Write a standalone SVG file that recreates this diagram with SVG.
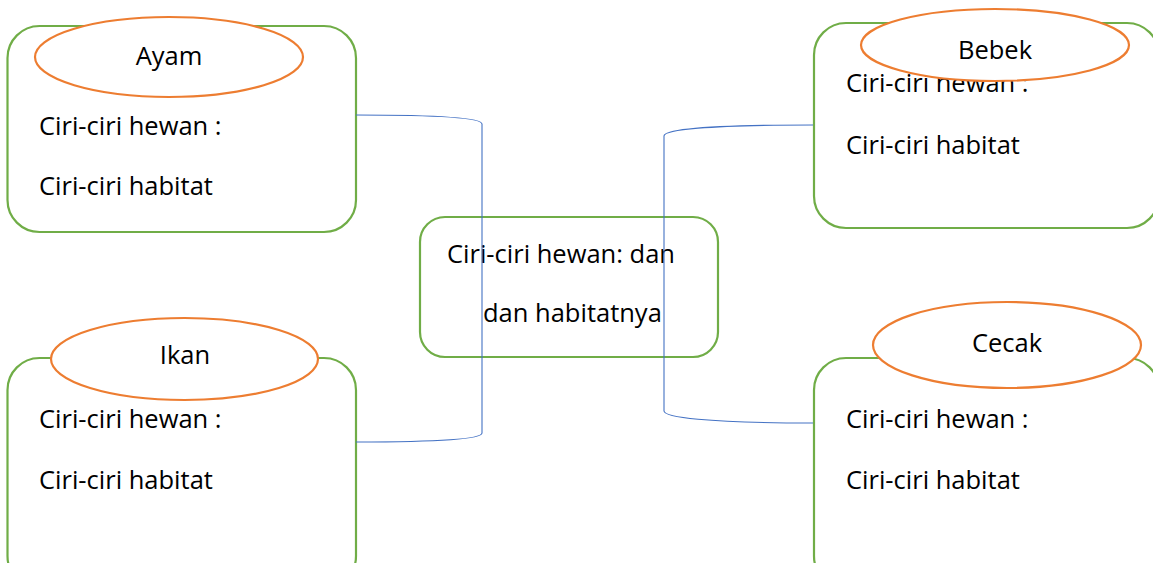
<svg xmlns="http://www.w3.org/2000/svg" width="1153" height="563" viewBox="0 0 1153 563">
<style>
.box{fill:#fff;stroke:#70AD47;stroke-width:2.2}
.oval{fill:#fff;stroke:#ED7D31;stroke-width:2.2}
.conn{fill:none;stroke:#4472C4;stroke-width:1.1}
text{font-family:"Open Sans","Noto Sans",sans-serif;font-size:25.5px;fill:#000}
.c{text-anchor:middle}
</style>
<rect width="1153" height="563" fill="#fff"/>
<g id="node-ayam">
<rect class="box" x="7.5" y="26" width="348.5" height="206" rx="32"/>
<ellipse class="oval" cx="169" cy="57" rx="134" ry="40"/>
<text class="c" x="169" y="65">Ayam</text>
<text x="39" y="135">Ciri-ciri hewan :</text>
<text x="39" y="195">Ciri-ciri habitat</text>
</g>
<g id="node-ikan">
<rect class="box" x="7.5" y="358" width="348.5" height="230" rx="32"/>
<ellipse class="oval" cx="184.5" cy="359" rx="133.5" ry="41"/>
<text class="c" x="185" y="364">Ikan</text>
<text x="39" y="428">Ciri-ciri hewan :</text>
<text x="39" y="489">Ciri-ciri habitat</text>
</g>
<g id="node-bebek">
<rect class="box" x="814" y="23" width="345" height="205" rx="32"/>
<text x="846" y="92">Ciri-ciri hewan :</text>
<text x="846" y="154">Ciri-ciri habitat</text>
<ellipse class="oval" cx="995" cy="45" rx="134" ry="36"/>
<text class="c" x="995" y="59">Bebek</text>
</g>
<g id="node-cecak">
<rect class="box" x="814" y="358" width="345" height="230" rx="32"/>
<ellipse class="oval" cx="1007" cy="345" rx="134" ry="43"/>
<text class="c" x="1007" y="352">Cecak</text>
<text x="846" y="428">Ciri-ciri hewan :</text>
<text x="846" y="489">Ciri-ciri habitat</text>
</g>
<g id="node-center">
<rect class="box" x="420" y="217" width="298" height="140" rx="25"/>
<text x="447" y="263">Ciri-ciri hewan: dan</text>
<text x="483" y="322">dan habitatnya</text>
</g>
<g id="connectors">
<path class="conn" d="M356,115 C440,115 482,118 482,124 V433 C482,439 440,442 356,442"/>
<path class="conn" d="M813,125 C705,125 664,130 664,136 V411 C664,417 705,423 813,423"/>
</g>
</svg>
